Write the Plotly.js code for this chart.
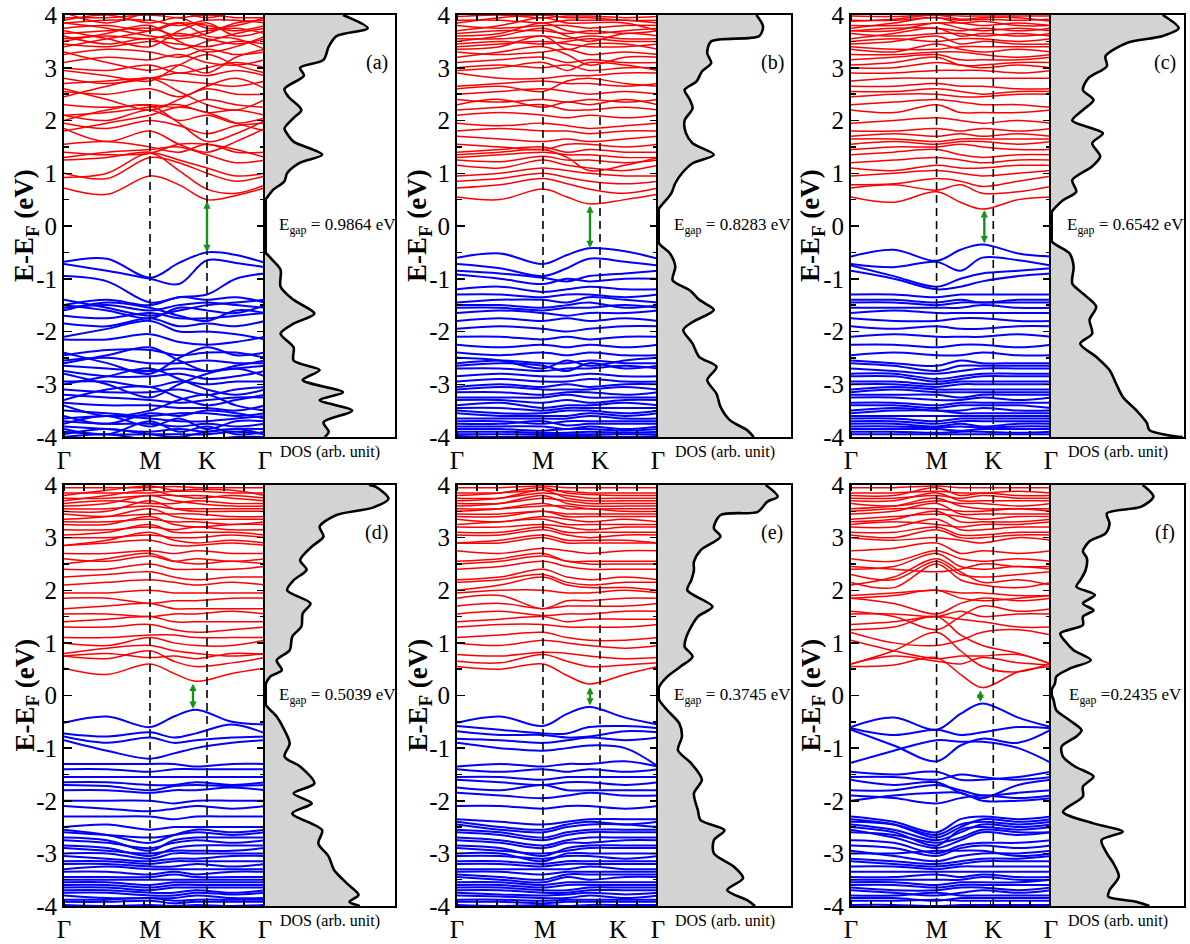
<!DOCTYPE html>
<html><head><meta charset="utf-8">
<script src="https://cdn.plot.ly/plotly-3.0.1.min.js"></script>
<style>html,body{margin:0;padding:0;background:#fff}#chart{width:1190px;height:944px}</style>
</head><body><div id="chart"></div>
<script>
// ---------------- DATA ----------------
const panelLabels = ['(a)', '(b)', '(c)', '(d)', '(e)', '(f)'];
const gapValues = [0.9864, 0.8283, 0.6542, 0.5039, 0.3745, 0.2435];
const gapLabels = ['E<sub>gap</sub> = 0.9864 eV', 'E<sub>gap</sub> = 0.8283 eV', 'E<sub>gap</sub> = 0.6542 eV',
                   'E<sub>gap</sub> = 0.5039 eV', 'E<sub>gap</sub> = 0.3745 eV', 'E<sub>gap</sub> =0.2435 eV'];
const gapK = [143, 133, 134, 129, 133, 130];
const symNames = ['Γ', 'M', 'K', 'Γ'];
const symK = [0, 86, 143, 201];
const symLabelKe = [0, 88, 161, 201];
const energyTicks = [-4, -3, -2, -1, 0, 1, 2, 3, 4];
const energyTickText = ['-4', '-3', '-2', '-1', '0', '1', '2', '3', '4'];
const dosTitle = 'DOS (arb. unit)';
const yTitle = '<b>E-E<sub>F</sub> (eV)</b>';
const kNodesA = [0, 43, 86, 115, 143, 172, 201];
const kNodesB = [0, 43, 86, 110, 132, 168, 201];

// panel (a)
const cbA = [
[0.72,0.60,0.95,0.78,0.50,0.58,0.72],[0.92,1.00,1.38,1.05,0.70,0.62,0.78],[1.00,0.90,1.30,1.20,1.00,0.85,0.95],
[1.25,1.30,1.40,1.25,1.10,0.95,1.00],[1.30,1.40,1.45,1.50,1.35,1.20,1.25],[1.40,1.35,1.38,1.55,1.55,1.45,1.30],
[1.55,1.60,1.50,1.40,1.55,1.40,1.40],[1.85,1.60,1.80,1.55,1.40,1.60,1.85],[1.95,1.85,2.00,1.90,1.75,1.90,1.95],
[2.10,2.00,2.20,2.00,2.10,1.95,2.05],[2.10,2.15,2.25,2.30,2.15,2.20,2.10],[2.30,2.25,2.30,2.25,2.40,2.30,2.25],
[2.55,2.50,2.60,2.45,2.60,2.50,2.50],[2.70,2.75,2.80,2.75,2.70,2.65,2.75],[2.80,2.70,2.80,2.90,2.85,2.95,2.85],
[3.00,2.95,3.05,2.90,3.00,3.10,3.00],[3.10,3.20,3.15,3.25,3.10,3.05,3.15],[3.25,3.35,3.30,3.20,3.35,3.25,3.30],
[3.45,3.40,3.50,3.45,3.40,3.50,3.45],[3.55,3.60,3.55,3.65,3.55,3.45,3.55],[3.65,3.70,3.75,3.60,3.70,3.75,3.65],
[3.75,3.80,3.70,3.85,3.80,3.70,3.80],[3.85,3.90,3.90,3.80,3.90,3.90,3.85],[3.95,3.95,4.00,3.95,4.00,3.95,3.95],
[4.05,3.85,4.05,4.05,3.95,4.05,4.05],
[2.00,2.20,2.28,1.95,1.60,1.75,2.00],[1.80,1.95,2.10,2.25,2.15,1.95,1.80],[2.45,2.65,2.80,2.55,2.30,2.20,2.40],
[2.60,2.40,2.20,2.40,2.65,2.80,2.60],[2.95,2.85,2.75,3.05,3.25,3.05,2.90],[3.30,3.10,2.95,3.05,2.90,3.20,3.35],
[3.50,3.65,3.80,3.50,3.30,3.40,3.60],[3.70,3.55,3.40,3.70,3.85,3.60,3.70],[3.85,3.75,3.60,3.55,3.65,3.85,3.90],
[3.40,3.55,3.70,3.85,3.60,3.55,3.35],[3.60,3.45,3.55,3.35,3.50,3.65,3.75],[3.90,4.00,3.85,3.95,3.75,3.80,3.95]];
const vbA = [
[-0.68,-0.62,-0.98,-0.70,-0.50,-0.55,-0.70],[-0.72,-0.85,-1.00,-1.10,-0.65,-0.70,-0.78],[-0.95,-1.05,-1.45,-1.35,-1.30,-1.00,-0.90],
[-1.50,-1.40,-1.50,-1.35,-1.40,-1.35,-1.45],[-1.55,-1.50,-1.60,-1.50,-1.45,-1.50,-1.55],[-1.50,-1.60,-1.75,-1.55,-1.60,-1.65,-1.50],
[-1.70,-1.75,-1.65,-1.75,-1.75,-1.70,-1.65],[-1.85,-1.90,-1.75,-1.90,-1.85,-1.90,-1.80],[-2.10,-1.95,-1.80,-2.00,-2.00,-2.05,-2.15],
[-2.15,-2.15,-2.05,-2.20,-2.25,-2.20,-2.10],[-2.45,-2.35,-2.35,-2.45,-2.40,-2.40,-2.50],[-2.55,-2.50,-2.60,-2.60,-2.55,-2.60,-2.60],
[-2.65,-2.70,-2.75,-2.70,-2.75,-2.70,-2.65],[-2.75,-2.85,-2.85,-2.80,-2.90,-2.85,-2.75],[-2.95,-2.95,-3.05,-2.95,-3.00,-2.95,-2.95],
[-3.10,-3.15,-3.15,-3.10,-3.20,-3.10,-3.05],[-3.20,-3.25,-3.30,-3.35,-3.30,-3.25,-3.25],[-3.35,-3.40,-3.40,-3.45,-3.45,-3.50,-3.40],
[-3.50,-3.55,-3.60,-3.55,-3.55,-3.60,-3.55],[-3.65,-3.60,-3.65,-3.70,-3.70,-3.65,-3.60],[-3.70,-3.75,-3.75,-3.80,-3.75,-3.80,-3.75],
[-3.80,-3.85,-3.90,-3.85,-3.90,-3.85,-3.85],[-3.90,-3.95,-3.95,-3.95,-3.95,-3.90,-3.95],[-4.00,-3.95,-4.05,-4.00,-4.05,-4.00,-4.00],
[-1.60,-1.45,-1.55,-1.70,-1.80,-1.60,-1.65],[-2.40,-2.60,-2.80,-2.50,-2.30,-2.45,-2.40],[-2.60,-2.45,-2.30,-2.55,-2.75,-2.65,-2.55],
[-2.80,-3.00,-3.25,-3.00,-2.80,-2.70,-2.85],[-3.00,-2.85,-2.70,-2.90,-3.10,-3.20,-3.10],[-3.30,-3.10,-3.05,-3.25,-3.40,-3.30,-3.20],
[-3.40,-3.60,-3.50,-3.30,-3.20,-3.40,-3.50],[-3.60,-3.75,-3.55,-3.60,-3.50,-3.55,-3.65],[-3.75,-3.60,-3.80,-3.65,-3.85,-3.70,-3.70],
[-3.85,-3.95,-3.70,-3.90,-3.80,-3.95,-3.90],[-3.95,-3.85,-3.95,-4.00,-3.90,-3.85,-3.95],[-1.40,-1.55,-1.70,-1.60,-1.50,-1.45,-1.40]];
const dosEA = [4.0,3.75,3.6,3.4,3.15,3.0,2.85,2.6,2.45,2.2,2.05,1.85,1.75,1.6,1.35,1.2,1.0,0.85,0.68,0.52,0.5,-0.5,-0.52,-0.65,-0.83,-1.15,-1.4,-1.66,-1.85,-2.04,-2.3,-2.55,-2.73,-2.92,-3.15,-3.3,-3.5,-3.72,-3.9,-4.0];
const dosA  = [0.60,0.79,0.55,0.49,0.45,0.27,0.30,0.15,0.18,0.28,0.22,0.15,0.17,0.22,0.44,0.27,0.17,0.15,0.06,0.01,0,0,0.01,0.06,0.12,0.12,0.22,0.38,0.22,0.12,0.22,0.22,0.42,0.29,0.60,0.42,0.67,0.45,0.49,0.46];

// panel (b)
const cbB = [
[0.55,0.50,0.70,0.55,0.42,0.50,0.60],[0.72,0.78,0.90,0.80,0.70,0.62,0.72],[0.85,0.90,1.00,0.92,0.85,0.80,0.85],
[0.95,1.00,1.10,1.05,1.00,0.95,0.95],[1.15,1.10,1.25,1.15,1.10,1.05,1.15],[1.25,1.22,1.32,1.25,1.25,1.20,1.25],
[1.30,1.35,1.40,1.35,1.35,1.30,1.30],[1.40,1.45,1.50,1.40,1.45,1.40,1.40],[1.55,1.50,1.45,1.55,1.55,1.50,1.55],
[1.70,1.65,1.60,1.65,1.60,1.65,1.70],[1.80,1.85,1.80,1.80,1.75,1.80,1.80],[1.95,1.90,1.95,1.90,1.85,1.90,1.95],
[2.10,2.15,2.10,2.05,2.10,2.05,2.10],[2.20,2.25,2.30,2.20,2.20,2.25,2.20],[2.40,2.35,2.40,2.35,2.40,2.35,2.40],
[2.50,2.55,2.60,2.55,2.50,2.55,2.50],[2.65,2.70,2.75,2.70,2.70,2.65,2.70],[2.90,2.80,2.80,2.85,2.85,2.90,2.90],
[3.00,3.05,3.00,3.05,2.95,3.00,3.00],[3.10,3.15,3.20,3.10,3.15,3.10,3.10],[3.30,3.25,3.30,3.35,3.25,3.30,3.25],
[3.40,3.45,3.50,3.45,3.40,3.40,3.45],[3.55,3.55,3.60,3.55,3.60,3.55,3.55],[3.65,3.70,3.70,3.65,3.70,3.65,3.70],
[3.80,3.75,3.80,3.80,3.75,3.80,3.80],[3.90,3.90,3.85,3.90,3.90,3.90,3.85],[3.97,4.00,3.95,3.98,3.98,3.95,3.97],
[1.35,1.40,1.45,1.30,1.05,1.15,1.30],[2.30,2.40,2.25,2.35,2.30,2.40,2.30],[2.60,2.65,2.55,2.75,2.80,2.70,2.65],
[2.95,3.00,3.10,2.95,3.10,3.05,2.95],[3.20,3.30,3.40,3.25,3.05,3.20,3.20],[3.35,3.40,3.60,3.35,3.45,3.45,3.35],
[3.50,3.60,3.75,3.60,3.50,3.65,3.60],[3.60,3.65,3.85,3.70,3.65,3.70,3.75],[3.70,3.80,3.95,3.85,3.85,3.85,3.70],
[3.85,3.95,4.00,3.95,3.95,3.90,3.90],[3.45,3.50,3.45,3.50,3.55,3.50,3.50]];
const vbB = [
[-0.60,-0.52,-0.72,-0.55,-0.42,-0.48,-0.62],[-0.72,-0.80,-0.95,-0.80,-0.62,-0.68,-0.75],[-0.85,-0.90,-0.98,-1.05,-0.95,-0.90,-0.85],
[-0.92,-1.00,-1.10,-1.00,-1.05,-1.00,-1.00],[-1.20,-1.15,-1.25,-1.20,-1.15,-1.20,-1.20],[-1.30,-1.30,-1.35,-1.30,-1.30,-1.35,-1.30],
[-1.45,-1.40,-1.40,-1.45,-1.35,-1.40,-1.45],[-1.55,-1.55,-1.60,-1.55,-1.55,-1.50,-1.55],[-1.65,-1.60,-1.65,-1.70,-1.65,-1.65,-1.60],
[-1.80,-1.75,-1.80,-1.75,-1.80,-1.75,-1.80],[-1.95,-1.90,-1.95,-2.00,-1.95,-1.90,-1.90],[-2.10,-2.10,-2.15,-2.10,-2.15,-2.10,-2.10],
[-2.25,-2.30,-2.25,-2.30,-2.25,-2.30,-2.25],[-2.40,-2.45,-2.40,-2.45,-2.40,-2.45,-2.45],[-2.60,-2.55,-2.60,-2.60,-2.55,-2.60,-2.60],
[-2.70,-2.70,-2.75,-2.70,-2.70,-2.65,-2.70],[-2.85,-2.80,-2.85,-2.85,-2.80,-2.85,-2.85],[-3.05,-3.00,-3.05,-3.00,-3.05,-3.00,-3.00],
[-3.15,-3.15,-3.20,-3.15,-3.15,-3.20,-3.15],[-3.30,-3.30,-3.35,-3.30,-3.35,-3.30,-3.30],[-3.45,-3.45,-3.50,-3.45,-3.45,-3.45,-3.45],
[-3.55,-3.60,-3.60,-3.60,-3.55,-3.60,-3.55],[-3.70,-3.70,-3.75,-3.70,-3.70,-3.70,-3.70],[-3.80,-3.80,-3.80,-3.85,-3.80,-3.85,-3.80],
[-3.90,-3.90,-3.92,-3.92,-3.90,-3.92,-3.90],[-3.98,-4.00,-3.98,-3.98,-3.98,-4.00,-3.98],
[-1.50,-1.50,-1.55,-1.50,-1.45,-1.55,-1.50],[-2.50,-2.55,-2.70,-2.55,-2.65,-2.55,-2.50],[-2.65,-2.60,-2.65,-2.75,-2.60,-2.70,-2.65],
[-2.95,-2.90,-2.95,-2.95,-2.90,-2.95,-2.95],[-3.10,-3.05,-3.10,-3.10,-3.10,-3.05,-3.10],[-3.25,-3.25,-3.25,-3.20,-3.25,-3.25,-3.25],
[-3.40,-3.35,-3.45,-3.40,-3.40,-3.35,-3.40],[-3.50,-3.55,-3.55,-3.50,-3.50,-3.55,-3.50],[-3.65,-3.65,-3.65,-3.65,-3.60,-3.65,-3.65],
[-3.75,-3.75,-3.70,-3.78,-3.75,-3.75,-3.75],[-3.85,-3.85,-3.88,-3.85,-3.85,-3.88,-3.85],[-3.95,-3.95,-3.95,-3.95,-3.95,-3.95,-3.95]];
const dosEB = [4.0,3.78,3.6,3.5,3.28,3.09,2.93,2.74,2.58,2.39,2.23,2.0,1.76,1.57,1.35,1.19,1.0,0.81,0.62,0.43,0.3,-0.3,-0.52,-0.77,-1.03,-1.22,-1.4,-1.59,-1.82,-1.97,-2.23,-2.48,-2.67,-2.92,-3.18,-3.43,-3.68,-3.87,-4.0];
const dosB  = [0.74,0.79,0.76,0.40,0.37,0.40,0.33,0.29,0.20,0.24,0.26,0.20,0.21,0.26,0.42,0.26,0.18,0.13,0.10,0.04,0,0,0.09,0.13,0.11,0.24,0.31,0.42,0.26,0.19,0.26,0.31,0.44,0.37,0.44,0.47,0.54,0.67,0.72];

// panel (c)
const cbC = [
[0.55,0.45,0.65,0.45,0.32,0.50,0.55],[0.72,0.78,0.68,0.78,0.62,0.65,0.75],[0.78,0.80,0.90,0.85,0.75,0.85,0.95],
[0.95,1.00,1.05,1.00,0.95,1.00,1.05],[1.10,1.05,1.15,1.10,1.10,1.15,1.15],[1.20,1.25,1.30,1.25,1.20,1.25,1.25],
[1.35,1.40,1.45,1.35,1.30,1.35,1.35],[1.45,1.50,1.50,1.55,1.50,1.45,1.45],[1.55,1.60,1.55,1.60,1.60,1.55,1.60],
[1.70,1.75,1.70,1.75,1.70,1.75,1.70],[1.80,1.80,1.85,1.80,1.85,1.80,1.85],[1.95,2.00,2.05,2.00,1.95,2.00,1.95],
[2.20,2.15,2.30,2.15,2.15,2.15,2.20],[2.30,2.35,2.40,2.35,2.30,2.30,2.25],[2.45,2.50,2.50,2.45,2.45,2.50,2.50],
[2.65,2.65,2.70,2.65,2.65,2.60,2.60],[2.75,2.80,2.80,2.80,2.80,2.80,2.80],[2.90,2.90,2.95,2.95,2.95,2.90,2.95],
[3.05,3.10,3.20,3.05,3.05,3.10,3.10],[3.25,3.25,3.30,3.30,3.25,3.20,3.25],[3.40,3.35,3.35,3.40,3.40,3.40,3.40],
[3.50,3.55,3.50,3.55,3.55,3.50,3.55],[3.65,3.60,3.65,3.65,3.60,3.65,3.60],[3.70,3.75,3.75,3.70,3.75,3.70,3.75],
[3.80,3.80,3.85,3.85,3.80,3.85,3.80],[3.90,3.90,3.95,3.90,3.92,3.90,3.92],[3.98,3.97,4.00,3.98,3.98,3.98,3.98],
[3.00,3.00,3.10,3.05,3.00,3.05,3.00],[3.15,3.20,3.25,3.15,3.15,3.15,3.20],[3.35,3.30,3.45,3.35,3.30,3.35,3.30],
[3.45,3.50,3.60,3.45,3.50,3.45,3.45],[3.55,3.65,3.75,3.60,3.65,3.60,3.65],[3.70,3.70,3.85,3.75,3.70,3.75,3.70],
[3.75,3.85,3.95,3.85,3.88,3.80,3.80],[3.88,3.92,4.00,3.92,3.95,3.95,3.88],[2.55,2.55,2.60,2.55,2.50,2.55,2.55],
[1.65,1.65,1.60,1.65,1.65,1.65,1.65]];
const vbC = [
[-0.58,-0.45,-0.66,-0.45,-0.35,-0.52,-0.58],[-0.72,-0.78,-0.68,-0.85,-0.60,-0.65,-0.75],[-0.75,-0.95,-1.15,-1.00,-0.90,-0.85,-0.80],
[-0.85,-1.00,-1.20,-1.15,-1.05,-0.95,-0.90],[-1.30,-1.30,-1.35,-1.30,-1.30,-1.30,-1.30],[-1.40,-1.40,-1.45,-1.40,-1.45,-1.40,-1.40],
[-1.55,-1.55,-1.55,-1.55,-1.50,-1.55,-1.55],[-1.65,-1.60,-1.65,-1.65,-1.65,-1.65,-1.65],[-1.75,-1.80,-1.80,-1.75,-1.75,-1.80,-1.80],
[-1.90,-1.95,-1.90,-1.95,-1.95,-1.90,-1.90],[-2.10,-2.05,-2.10,-2.10,-2.10,-2.05,-2.10],[-2.25,-2.25,-2.30,-2.25,-2.25,-2.30,-2.25],
[-2.45,-2.40,-2.45,-2.45,-2.40,-2.45,-2.45],[-2.55,-2.60,-2.65,-2.55,-2.60,-2.60,-2.60],[-2.70,-2.75,-2.80,-2.75,-2.70,-2.70,-2.70],
[-2.85,-2.85,-2.95,-2.90,-2.85,-2.85,-2.85],[-3.00,-3.00,-3.05,-3.00,-3.00,-3.00,-3.00],[-3.15,-3.10,-3.15,-3.15,-3.15,-3.15,-3.15],
[-3.25,-3.25,-3.30,-3.30,-3.25,-3.30,-3.25],[-3.40,-3.40,-3.45,-3.40,-3.40,-3.40,-3.45],[-3.55,-3.50,-3.50,-3.55,-3.55,-3.55,-3.55],
[-3.65,-3.65,-3.70,-3.65,-3.65,-3.65,-3.65],[-3.75,-3.75,-3.80,-3.75,-3.80,-3.75,-3.75],[-3.85,-3.85,-3.85,-3.88,-3.85,-3.85,-3.85],
[-3.95,-3.95,-3.95,-3.95,-3.95,-3.95,-3.95],
[-2.60,-2.65,-2.75,-2.65,-2.65,-2.65,-2.65],[-2.80,-2.80,-2.90,-2.85,-2.80,-2.80,-2.80],[-2.95,-2.95,-3.00,-2.95,-2.95,-2.95,-2.95],
[-3.10,-3.05,-3.10,-3.10,-3.10,-3.10,-3.10],[-3.20,-3.20,-3.20,-3.25,-3.20,-3.20,-3.20],[-3.35,-3.35,-3.40,-3.35,-3.35,-3.35,-3.35],
[-3.50,-3.45,-3.50,-3.50,-3.45,-3.50,-3.50],[-3.60,-3.60,-3.60,-3.60,-3.60,-3.60,-3.60],[-3.70,-3.70,-3.75,-3.70,-3.70,-3.70,-3.70],
[-3.80,-3.80,-3.82,-3.80,-3.82,-3.80,-3.80],[-3.90,-3.90,-3.92,-3.90,-3.90,-3.92,-3.90],[-1.45,-1.45,-1.50,-1.45,-1.45,-1.45,-1.45]];
const dosEC = [4.0,3.75,3.6,3.47,3.22,3.03,2.8,2.58,2.39,2.2,2.0,1.76,1.57,1.32,1.13,0.87,0.65,0.49,0.37,0.24,-0.27,-0.52,-0.77,-1.09,-1.28,-1.53,-1.78,-2.04,-2.23,-2.48,-2.73,-2.99,-3.24,-3.49,-3.73,-3.87,-3.97,-4.0];
const dosC  = [0.84,0.96,0.84,0.57,0.41,0.42,0.28,0.24,0.32,0.24,0.16,0.39,0.31,0.37,0.31,0.16,0.19,0.09,0.04,0,0,0.14,0.17,0.16,0.24,0.34,0.29,0.31,0.22,0.34,0.44,0.49,0.54,0.64,0.72,0.74,0.89,0.99];

// panel (d)
const cbD = [
[0.52,0.40,0.60,0.42,0.27,0.42,0.52],[0.75,0.70,0.85,0.65,0.55,0.62,0.72],[0.80,0.90,0.95,0.85,0.80,0.75,0.80],
[1.00,0.95,1.10,1.00,0.95,0.95,1.05],[1.10,1.10,1.15,1.15,1.10,1.10,1.10],[1.30,1.30,1.35,1.25,1.20,1.25,1.30],
[1.40,1.45,1.50,1.40,1.40,1.40,1.40],[1.55,1.55,1.50,1.55,1.55,1.60,1.55],[1.65,1.70,1.75,1.65,1.65,1.65,1.65],
[1.85,1.85,1.75,1.80,1.80,1.85,1.85],[1.95,1.95,2.00,1.95,1.95,1.95,1.95],[2.10,2.15,2.20,2.15,2.10,2.15,2.10],
[2.25,2.30,2.35,2.25,2.20,2.25,2.25],[2.40,2.40,2.50,2.40,2.40,2.40,2.45],[2.60,2.55,2.65,2.55,2.60,2.55,2.60],
[2.70,2.70,2.75,2.70,2.75,2.70,2.70],[2.85,2.90,2.95,2.85,2.85,2.90,2.85],[3.00,3.00,3.05,3.00,3.00,3.05,3.00],
[3.15,3.15,3.20,3.15,3.20,3.15,3.15],[3.30,3.30,3.35,3.30,3.30,3.25,3.30],[3.45,3.40,3.45,3.45,3.45,3.40,3.40],
[3.55,3.55,3.60,3.55,3.55,3.55,3.55],[3.65,3.70,3.65,3.65,3.70,3.65,3.65],[3.75,3.75,3.80,3.80,3.75,3.80,3.75],
[3.85,3.85,3.85,3.88,3.88,3.85,3.85],[3.95,3.95,3.95,3.97,3.95,3.95,3.95],
[2.85,2.95,3.10,2.95,2.90,2.95,2.90],[3.05,3.10,3.25,3.10,3.10,3.10,3.05],[3.25,3.25,3.40,3.25,3.20,3.25,3.25],
[3.35,3.40,3.55,3.40,3.35,3.35,3.35],[3.50,3.50,3.70,3.55,3.50,3.50,3.50],[3.60,3.65,3.80,3.70,3.65,3.60,3.60],
[3.70,3.80,3.90,3.80,3.80,3.75,3.70],[3.80,3.90,3.98,3.90,3.92,3.90,3.80],[2.50,2.60,2.70,2.55,2.50,2.55,2.50],
[0.75,0.80,0.72,0.75,0.70,0.80,0.78]];
const vbD = [
[-0.52,-0.40,-0.60,-0.40,-0.27,-0.50,-0.55],[-0.72,-0.78,-0.70,-0.80,-0.72,-0.55,-0.72],[-0.78,-0.90,-0.80,-0.90,-0.85,-0.80,-0.78],
[-0.85,-1.05,-1.20,-1.10,-1.00,-0.90,-0.85],[-1.30,-1.30,-1.30,-1.30,-1.35,-1.30,-1.30],[-1.40,-1.40,-1.45,-1.40,-1.40,-1.40,-1.40],
[-1.55,-1.55,-1.55,-1.55,-1.55,-1.55,-1.55],[-1.65,-1.65,-1.70,-1.70,-1.65,-1.70,-1.65],[-1.80,-1.80,-1.85,-1.80,-1.80,-1.75,-1.80],
[-2.00,-2.00,-2.00,-2.05,-2.00,-2.00,-2.00],[-2.10,-2.15,-2.20,-2.15,-2.10,-2.15,-2.10],[-2.30,-2.30,-2.30,-2.35,-2.30,-2.30,-2.30],
[-2.50,-2.45,-2.55,-2.50,-2.50,-2.50,-2.50],[-2.60,-2.65,-2.70,-2.65,-2.60,-2.65,-2.60],[-2.75,-2.80,-2.90,-2.80,-2.75,-2.80,-2.75],
[-2.90,-2.95,-3.00,-2.95,-2.95,-2.95,-2.90],[-3.05,-3.10,-3.15,-3.10,-3.10,-3.05,-3.05],[-3.20,-3.20,-3.25,-3.25,-3.20,-3.25,-3.20],
[-3.35,-3.35,-3.40,-3.35,-3.40,-3.35,-3.35],[-3.50,-3.50,-3.50,-3.50,-3.50,-3.50,-3.50],[-3.60,-3.60,-3.65,-3.60,-3.60,-3.60,-3.60],
[-3.70,-3.70,-3.75,-3.75,-3.70,-3.75,-3.70],[-3.80,-3.85,-3.85,-3.85,-3.80,-3.85,-3.85],[-3.92,-3.92,-3.90,-3.95,-3.92,-3.92,-3.92],
[-3.98,-4.00,-3.98,-4.00,-3.98,-4.00,-3.98],
[-2.55,-2.65,-2.80,-2.65,-2.55,-2.60,-2.55],[-2.70,-2.75,-2.95,-2.75,-2.70,-2.70,-2.70],[-2.85,-2.90,-3.05,-2.90,-2.85,-2.85,-2.85],
[-3.00,-3.00,-3.10,-3.00,-3.00,-3.00,-3.00],[-3.15,-3.15,-3.20,-3.15,-3.15,-3.15,-3.15],[-3.30,-3.25,-3.30,-3.30,-3.30,-3.30,-3.30],
[-3.45,-3.45,-3.45,-3.40,-3.45,-3.45,-3.45],[-3.55,-3.55,-3.60,-3.55,-3.55,-3.55,-3.55],[-3.65,-3.65,-3.70,-3.65,-3.65,-3.65,-3.65],
[-3.75,-3.75,-3.80,-3.80,-3.75,-3.78,-3.75],[-3.88,-3.88,-3.85,-3.90,-3.88,-3.88,-3.88],[-1.70,-1.72,-1.80,-1.72,-1.70,-1.72,-1.70]];
const dosED = [4.0,3.97,3.74,3.57,3.43,3.21,3.02,2.83,2.57,2.39,2.19,2.0,1.75,1.56,1.31,1.12,0.86,0.67,0.48,0.36,0.17,-0.15,-0.4,-0.66,-0.91,-1.16,-1.35,-1.67,-1.86,-2.05,-2.24,-2.56,-2.81,-3.06,-3.31,-3.57,-3.79,-3.92,-4.0];
const dosD  = [0.80,0.85,0.95,0.83,0.55,0.42,0.45,0.36,0.27,0.32,0.22,0.17,0.35,0.29,0.28,0.21,0.19,0.09,0.13,0.04,0,0,0.09,0.15,0.19,0.15,0.27,0.38,0.22,0.36,0.21,0.44,0.41,0.49,0.53,0.63,0.72,0.65,0.73];

// panel (e)
const cbE = [
[0.55,0.50,0.60,0.38,0.22,0.40,0.55],[0.65,0.62,0.78,0.65,0.55,0.58,0.62],[0.78,0.75,0.82,0.80,0.75,0.70,0.72],
[1.00,0.95,1.05,1.00,0.95,0.90,0.95],[1.10,1.15,1.20,1.10,1.05,1.05,1.10],[1.30,1.35,1.35,1.30,1.30,1.30,1.35],
[1.40,1.45,1.50,1.40,1.45,1.45,1.45],[1.55,1.60,1.52,1.55,1.55,1.60,1.60],[1.70,1.75,1.65,1.70,1.70,1.70,1.75],
[1.85,1.90,1.65,1.80,1.80,1.85,1.85],[1.95,2.00,2.00,1.95,1.95,2.00,1.95],[2.15,2.20,2.30,2.15,2.10,2.15,2.15],
[2.20,2.25,2.40,2.25,2.20,2.25,2.20],[2.40,2.45,2.55,2.45,2.40,2.40,2.40],[2.55,2.60,2.70,2.55,2.55,2.55,2.55],
[2.75,2.70,2.80,2.75,2.70,2.75,2.75],[2.90,2.90,3.00,2.90,2.90,2.90,2.90],[3.05,3.05,3.15,3.05,3.00,3.05,3.05],
[3.20,3.20,3.25,3.20,3.15,3.20,3.20],[3.35,3.30,3.40,3.35,3.30,3.35,3.30],[3.45,3.45,3.50,3.45,3.45,3.45,3.45],
[3.55,3.55,3.60,3.60,3.55,3.55,3.55],[3.65,3.65,3.75,3.70,3.65,3.65,3.65],[3.75,3.75,3.85,3.80,3.75,3.75,3.75],
[3.85,3.85,3.90,3.88,3.85,3.85,3.85],[3.95,3.95,3.98,3.95,3.95,3.95,3.95],
[2.90,2.95,3.05,2.95,2.95,2.95,2.90],[3.10,3.10,3.20,3.10,3.10,3.10,3.10],[3.25,3.30,3.35,3.25,3.25,3.25,3.25],
[3.40,3.40,3.50,3.40,3.40,3.40,3.40],[3.50,3.55,3.65,3.55,3.55,3.50,3.50],[3.60,3.65,3.80,3.65,3.60,3.60,3.60],
[3.70,3.75,3.90,3.75,3.70,3.70,3.70],[3.80,3.85,3.95,3.85,3.82,3.80,3.80],[2.50,2.55,2.65,2.55,2.50,2.50,2.50],
[2.00,2.10,2.25,2.10,2.05,2.05,2.00]];
const vbE = [
[-0.52,-0.40,-0.58,-0.35,-0.22,-0.42,-0.55],[-0.58,-0.65,-0.72,-0.72,-0.60,-0.58,-0.62],[-0.68,-0.75,-0.75,-0.80,-0.78,-0.68,-0.70],
[-0.82,-0.85,-0.90,-0.85,-0.80,-0.85,-0.80],[-0.90,-1.00,-1.05,-1.00,-0.95,-1.00,-1.35],[-1.35,-1.30,-1.35,-1.30,-1.30,-1.25,-1.35],
[-1.40,-1.45,-1.40,-1.45,-1.40,-1.45,-1.40],[-1.55,-1.55,-1.60,-1.55,-1.55,-1.55,-1.55],[-1.60,-1.65,-1.70,-1.65,-1.65,-1.70,-1.65],
[-1.75,-1.80,-1.70,-1.80,-1.80,-1.80,-1.80],[-1.85,-1.90,-1.95,-1.90,-1.85,-1.90,-1.90],[-2.10,-2.10,-2.15,-2.10,-2.10,-2.15,-2.10],
[-2.35,-2.40,-2.45,-2.40,-2.35,-2.35,-2.35],[-2.45,-2.55,-2.60,-2.50,-2.45,-2.45,-2.50],[-2.60,-2.65,-2.75,-2.65,-2.60,-2.60,-2.60],
[-2.75,-2.80,-2.90,-2.80,-2.80,-2.75,-2.75],[-2.90,-2.95,-3.00,-2.95,-2.90,-2.90,-2.90],[-3.05,-3.05,-3.10,-3.05,-3.05,-3.10,-3.05],
[-3.20,-3.20,-3.25,-3.20,-3.20,-3.20,-3.20],[-3.35,-3.35,-3.40,-3.35,-3.35,-3.35,-3.35],[-3.45,-3.50,-3.55,-3.45,-3.50,-3.45,-3.45],
[-3.60,-3.60,-3.65,-3.60,-3.60,-3.60,-3.60],[-3.70,-3.70,-3.75,-3.75,-3.70,-3.70,-3.70],[-3.80,-3.82,-3.85,-3.85,-3.80,-3.85,-3.80],
[-3.92,-3.92,-3.95,-3.92,-3.92,-3.92,-3.92],[-3.98,-4.00,-3.98,-4.00,-3.98,-3.98,-3.98],
[-2.40,-2.50,-2.55,-2.45,-2.40,-2.45,-2.40],[-2.55,-2.60,-2.70,-2.60,-2.55,-2.55,-2.55],[-2.70,-2.75,-2.85,-2.75,-2.70,-2.70,-2.70],
[-2.85,-2.90,-3.05,-2.90,-2.85,-2.85,-2.85],[-3.00,-3.00,-3.15,-3.00,-3.00,-3.00,-3.00],[-3.15,-3.15,-3.20,-3.15,-3.15,-3.15,-3.15],
[-3.30,-3.30,-3.30,-3.30,-3.25,-3.30,-3.30],[-3.40,-3.45,-3.50,-3.40,-3.40,-3.40,-3.40],[-3.55,-3.55,-3.60,-3.55,-3.55,-3.55,-3.55],
[-3.65,-3.65,-3.70,-3.70,-3.65,-3.65,-3.65],[-3.75,-3.78,-3.80,-3.78,-3.75,-3.78,-3.75],[-3.88,-3.88,-3.90,-3.88,-3.88,-3.88,-3.88]];
const dosEE = [4.0,3.78,3.68,3.49,3.43,3.18,3.02,2.76,2.54,2.38,2.19,2.0,1.69,1.5,1.31,1.09,0.93,0.74,0.55,0.36,0.17,0.04,-0.09,-0.28,-0.53,-0.78,-1.04,-1.29,-1.6,-1.86,-2.18,-2.37,-2.56,-2.75,-3.0,-3.25,-3.47,-3.7,-3.89,-4.0];
const dosE  = [0.81,0.90,0.82,0.75,0.47,0.42,0.47,0.32,0.27,0.27,0.25,0.22,0.41,0.30,0.25,0.21,0.20,0.26,0.17,0.07,0.01,0,0.01,0.07,0.16,0.18,0.15,0.25,0.33,0.27,0.30,0.32,0.50,0.42,0.42,0.57,0.64,0.52,0.67,0.73];

// panel (f)
const cbF = [
[0.55,0.58,0.72,0.40,0.15,0.45,0.55],[0.60,0.75,0.65,0.60,0.72,0.62,0.58],[1.05,0.85,0.70,0.75,0.75,0.78,0.60],
[0.60,0.85,1.20,0.85,0.55,0.45,0.62],[1.20,1.00,0.95,1.05,1.20,1.25,1.15],[1.25,1.30,1.50,1.15,0.95,0.80,0.60],
[1.35,1.40,1.50,1.45,1.40,1.30,1.30],[1.55,1.55,1.50,1.60,1.50,1.55,1.55],[1.60,1.50,1.25,1.50,1.70,1.60,1.65],
[1.85,1.75,1.55,1.75,1.85,1.80,1.85],[1.90,1.95,2.00,1.95,1.95,1.90,1.90],[2.15,2.05,2.50,2.20,2.10,2.05,2.15],
[2.30,2.20,2.55,2.30,2.25,2.30,2.35],[2.40,2.45,2.70,2.45,2.40,2.45,2.40],[2.60,2.55,2.75,2.60,2.55,2.60,2.55],
[2.75,2.80,2.90,2.70,2.75,2.70,2.75],[3.00,2.95,3.00,2.95,2.90,3.00,2.95],[3.10,3.10,3.20,3.05,3.05,3.10,3.10],
[3.25,3.30,3.25,3.20,3.25,3.25,3.30],[3.35,3.40,3.45,3.40,3.35,3.40,3.40],[3.50,3.55,3.55,3.50,3.50,3.55,3.50],
[3.65,3.60,3.70,3.65,3.65,3.60,3.65],[3.75,3.75,3.80,3.75,3.80,3.75,3.75],[3.85,3.85,3.88,3.85,3.85,3.88,3.85],
[3.95,3.95,3.98,3.95,3.95,3.95,3.95],
[3.05,3.00,3.15,3.00,3.00,3.05,3.05],[3.20,3.20,3.35,3.15,3.15,3.20,3.20],[3.30,3.35,3.50,3.30,3.30,3.30,3.35],
[3.45,3.50,3.65,3.45,3.45,3.45,3.45],[3.55,3.60,3.75,3.60,3.55,3.55,3.55],[3.70,3.70,3.85,3.70,3.70,3.70,3.70],
[3.80,3.80,3.95,3.80,3.85,3.80,3.80],[2.10,2.25,2.60,2.35,2.15,2.20,2.10],[1.85,1.90,2.00,1.85,1.80,1.85,1.90],
[2.45,2.40,2.35,2.40,2.50,2.45,2.45]];
const vbF = [
[-0.60,-0.42,-0.65,-0.35,-0.15,-0.42,-0.60],[-0.62,-0.75,-0.65,-0.75,-0.70,-0.60,-0.62],[-0.65,-0.95,-1.25,-0.95,-0.82,-0.90,-0.65],
[-1.28,-1.05,-0.85,-0.88,-0.88,-1.00,-1.28],[-1.45,-1.50,-1.45,-1.60,-1.60,-1.55,-1.45],[-1.55,-1.55,-1.60,-1.50,-1.55,-1.60,-1.55],
[-1.60,-1.70,-1.65,-1.85,-1.95,-1.70,-1.60],[-1.80,-1.80,-1.70,-1.80,-1.90,-1.85,-1.80],[-2.00,-1.90,-1.85,-1.85,-2.00,-2.00,-1.95],
[-2.30,-2.40,-2.60,-2.35,-2.30,-2.35,-2.30],[-2.40,-2.45,-2.65,-2.45,-2.40,-2.45,-2.40],[-2.50,-2.60,-2.85,-2.55,-2.50,-2.55,-2.50],
[-2.55,-2.70,-2.90,-2.75,-2.60,-2.65,-2.60],[-2.75,-2.80,-3.00,-2.85,-2.80,-2.80,-2.75],[-3.00,-3.00,-2.95,-2.95,-2.95,-3.05,-3.00],
[-3.10,-3.15,-3.20,-3.15,-3.10,-3.10,-3.05],[-3.25,-3.25,-3.30,-3.25,-3.25,-3.25,-3.25],[-3.45,-3.45,-3.40,-3.45,-3.40,-3.45,-3.45],
[-3.55,-3.55,-3.60,-3.55,-3.55,-3.55,-3.50],[-3.65,-3.70,-3.70,-3.65,-3.65,-3.70,-3.65],[-3.80,-3.80,-3.75,-3.80,-3.80,-3.80,-3.80],
[-3.90,-3.90,-3.88,-3.90,-3.90,-3.90,-3.90],[-3.98,-3.98,-4.00,-3.98,-3.98,-3.98,-3.98],
[-2.35,-2.45,-2.70,-2.50,-2.35,-2.40,-2.35],[-2.45,-2.55,-2.75,-2.60,-2.45,-2.50,-2.45],[-2.60,-2.65,-2.80,-2.70,-2.55,-2.60,-2.60],
[-2.85,-2.90,-3.05,-2.90,-2.85,-2.90,-2.85],[-2.95,-3.05,-3.15,-3.05,-3.00,-3.00,-2.95],[-3.15,-3.20,-3.25,-3.20,-3.15,-3.15,-3.15],
[-3.35,-3.35,-3.35,-3.35,-3.35,-3.35,-3.35],[-3.50,-3.50,-3.50,-3.50,-3.45,-3.50,-3.50],[-3.60,-3.60,-3.65,-3.60,-3.60,-3.60,-3.60],
[-3.70,-3.75,-3.80,-3.75,-3.70,-3.75,-3.70],[-3.85,-3.85,-3.90,-3.85,-3.85,-3.85,-3.85],[-1.90,-1.95,-2.05,-1.95,-1.90,-1.95,-1.90]];
const dosEF = [4.0,3.78,3.59,3.46,3.27,3.08,2.93,2.74,2.61,2.38,2.19,2.07,1.91,1.75,1.62,1.5,1.34,1.18,0.99,0.86,0.67,0.51,0.36,0.23,0.07,-0.09,-0.28,-0.47,-0.66,-0.78,-0.97,-1.16,-1.35,-1.54,-1.73,-1.92,-2.21,-2.43,-2.59,-2.75,-3.0,-3.19,-3.44,-3.7,-3.82,-3.92,-4.0];
const dosF  = [0.69,0.77,0.68,0.42,0.44,0.41,0.29,0.24,0.27,0.26,0.22,0.19,0.33,0.24,0.32,0.24,0.24,0.07,0.12,0.17,0.30,0.14,0.04,0.03,0,0.02,0.04,0.14,0.23,0.19,0.08,0.09,0.18,0.32,0.24,0.24,0.09,0.32,0.54,0.38,0.42,0.47,0.51,0.44,0.43,0.64,0.74];

// ---------------- BUILD ----------------
const panels = [
  {cb: cbA, vb: vbA, k: kNodesA, dosE: dosEA, dos: dosA, labK: symK},
  {cb: cbB, vb: vbB, k: kNodesB, dosE: dosEB, dos: dosB, labK: symK},
  {cb: cbC, vb: vbC, k: kNodesB, dosE: dosEC, dos: dosC, labK: symK},
  {cb: cbD, vb: vbD, k: kNodesB, dosE: dosED, dos: dosD, labK: symK},
  {cb: cbE, vb: vbE, k: kNodesB, dosE: dosEE, dos: dosE, labK: symLabelKe},
  {cb: cbF, vb: vbF, k: kNodesB, dosE: dosEF, dos: dosF, labK: symK}
];

const W = 1190, H = 944;
const rowPx = [[15, 437], [485, 906]];
const colPx = [[64, 265, 395], [457, 658, 791], [851, 1051, 1184]];
const titleXPx = [26, 419, 812];
const FONT = 'Liberation Serif';

const traces = [];
const layout = {
  width: W, height: H, margin: {l: 0, r: 0, t: 0, b: 0},
  paper_bgcolor: '#ffffff', plot_bgcolor: '#ffffff',
  showlegend: false, font: {family: FONT, color: '#000'},
  annotations: []
};

panels.forEach((p, i) => {
  const r = Math.floor(i / 3), c = i % 3;
  const bi = 2 * i + 1, di = 2 * i + 2;
  const bx = bi === 1 ? 'x' : 'x' + bi, by = bi === 1 ? 'y' : 'y' + bi;
  const dx = 'x' + di, dy = 'y' + di;
  const yd = [1 - rowPx[r][1] / H, 1 - rowPx[r][0] / H];
  const bxd = [colPx[c][0] / W, colPx[c][1] / W];
  const dxd = [colPx[c][1] / W, colPx[c][2] / W];

  p.cb.forEach(b => traces.push({x: p.k, y: b, xaxis: bx, yaxis: by, mode: 'lines', hoverinfo: 'skip',
    line: {color: '#ff0000', width: 1.5, shape: 'spline', smoothing: 1}}));
  p.vb.forEach(b => traces.push({x: p.k, y: b, xaxis: bx, yaxis: by, mode: 'lines', hoverinfo: 'skip',
    line: {color: '#0000ff', width: 2, shape: 'spline', smoothing: 1}}));
  [symK[1], symK[2]].forEach(kx => traces.push({x: [kx, kx], y: [-4, 4], xaxis: bx, yaxis: by, mode: 'lines',
    hoverinfo: 'skip', line: {color: '#000', width: 1.6, dash: '8px,5px'}}));
  traces.push({x: p.dos, y: p.dosE, xaxis: dx, yaxis: dy, mode: 'lines', fill: 'tozerox',
    fillcolor: '#d3d3d3', hoverinfo: 'skip', line: {color: '#000', width: 2.6, shape: 'spline', smoothing: 0.8}});

  const bxName = bi === 1 ? 'xaxis' : 'xaxis' + bi;
  const byName = bi === 1 ? 'yaxis' : 'yaxis' + bi;
  layout[bxName] = {
    domain: bxd, anchor: by, range: [symK[0], symK[3]], showgrid: false, zeroline: false,
    showline: true, linecolor: '#000', linewidth: 2, mirror: 'allticks',
    tickmode: 'array', tickvals: p.labK, ticktext: symNames, ticks: '',
    tickfont: {family: FONT, size: 25, color: '#000'},
    minor: {tickmode: 'linear', tick0: 0, dtick: 20, ticks: 'inside', ticklen: 6, tickwidth: 1.5, tickcolor: '#000', showgrid: false}
  };
  layout[byName] = {
    domain: yd, anchor: bx, range: [-4, 4], showgrid: false, zeroline: false,
    showline: true, linecolor: '#000', linewidth: 2, mirror: 'allticks',
    tickmode: 'array', tickvals: energyTicks, ticktext: energyTickText,
    ticks: 'inside', ticklen: 8, tickwidth: 1.5, tickcolor: '#000',
    tickfont: {family: FONT, size: 25, color: '#000'},
    minor: {tickmode: 'linear', tick0: -4, dtick: 0.5, ticks: 'inside', ticklen: 5, tickwidth: 1.5, tickcolor: '#000', showgrid: false}
  };
  layout['xaxis' + di] = {
    domain: dxd, anchor: dy, range: [0, 1], showgrid: false, zeroline: false,
    showline: true, linecolor: '#000', linewidth: 2, mirror: true, ticks: '', showticklabels: false
  };
  layout['yaxis' + di] = {
    domain: yd, anchor: dx, range: [-4, 4], showgrid: false, zeroline: false,
    showline: true, linecolor: '#000', linewidth: 2, mirror: true, ticks: '', showticklabels: false
  };

  // y-axis title (rotated)
  layout.annotations.push({xref: 'paper', yref: 'paper', x: titleXPx[c] / W, y: (yd[0] + yd[1]) / 2,
    xanchor: 'center', yanchor: 'middle', textangle: -90, showarrow: false, text: yTitle,
    font: {family: FONT, size: 27, color: '#000'}});
  layout.annotations.push({xref: 'paper', yref: 'paper', x: (dxd[0] + dxd[1]) / 2, y: 1 - (rowPx[r][1] + 15) / H,
    xanchor: 'center', yanchor: 'middle', showarrow: false, text: dosTitle,
    font: {family: FONT, size: 16, color: '#000'}});
  layout.annotations.push({xref: dx + ' domain', yref: dy, x: 0.86, y: 3.1, xanchor: 'center', yanchor: 'middle',
    showarrow: false, text: panelLabels[i], font: {family: FONT, size: 20, color: '#000'}});
  layout.annotations.push({xref: dx + ' domain', yref: dy, x: 0.56, y: 0.0, xanchor: 'center', yanchor: 'middle',
    showarrow: false, text: gapLabels[i], font: {family: FONT, size: 17, color: '#000'}});
  layout.annotations.push({xref: bx, yref: by, axref: bx, ayref: by,
    x: gapK[i], y: -gapValues[i] / 2, ax: gapK[i], ay: gapValues[i] / 2, text: '',
    showarrow: true, arrowhead: 2, arrowside: 'end+start', arrowsize: 0.6, arrowwidth: 2.4,
    arrowcolor: '#16901a', standoff: 0, startstandoff: 0});
});

Plotly.newPlot('chart', traces, layout, {staticPlot: true, displayModeBar: false});
</script>
</body></html>
